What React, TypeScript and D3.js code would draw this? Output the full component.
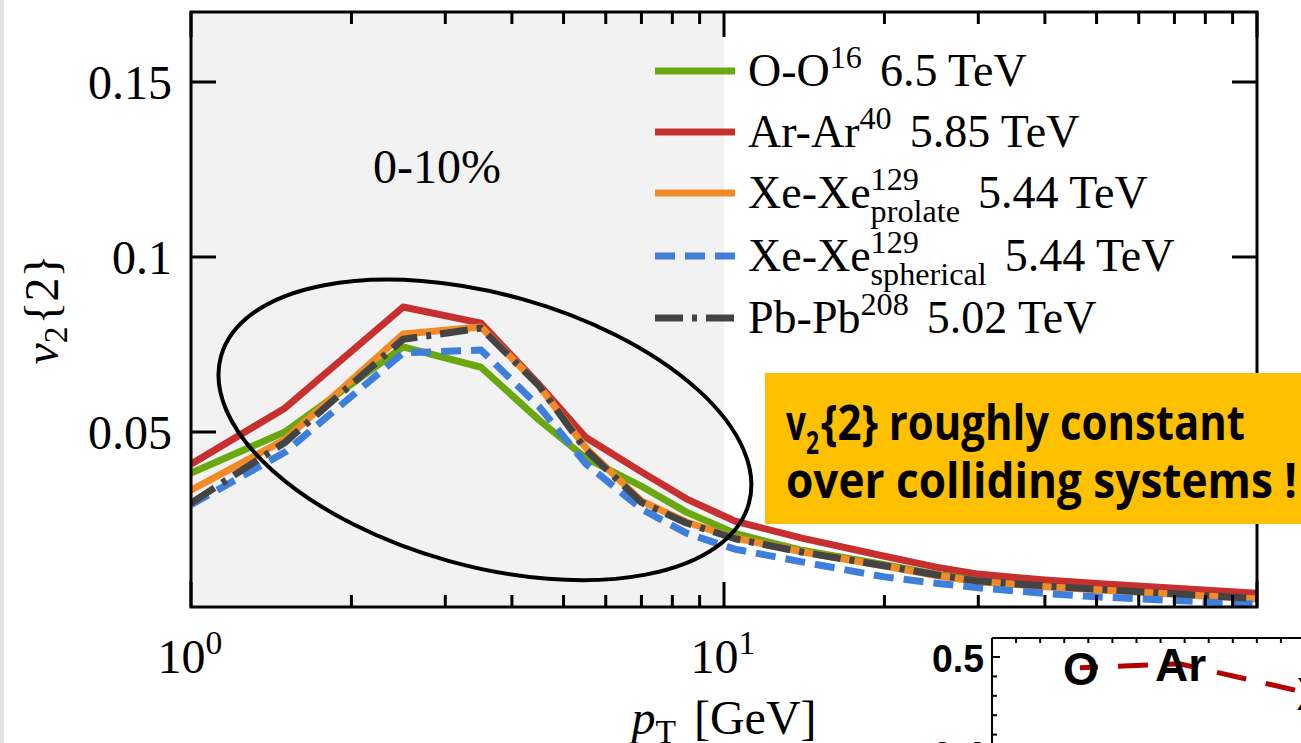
import React, { useEffect, useRef } from 'react';
import * as d3 from 'd3';

const W = 1301;
const H = 743;

// pT grid [GeV] shared by all systems
const pT = [1, 1.5, 2.5, 3.5, 4.5, 5.5, 7, 8.5, 10.5, 14, 20, 25, 30, 40, 50, 100];

// v2{2}, 0-10% centrality
const v2OO = [0.0383, 0.05, 0.0743, 0.0685, 0.0534, 0.0426, 0.0345, 0.0271, 0.021, 0.0162, 0.0121, 0.0094, 0.0076, 0.0062, 0.0053, 0.0027];
const v2ArAr = [0.0408, 0.0568, 0.0857, 0.0811, 0.0635, 0.0485, 0.0386, 0.0309, 0.0245, 0.0197, 0.0145, 0.0114, 0.0094, 0.0077, 0.0067, 0.0039];
const v2XeProlate = [0.0334, 0.0478, 0.078, 0.08, 0.0632, 0.0455, 0.0303, 0.0243, 0.0197, 0.0158, 0.0117, 0.009, 0.0072, 0.0058, 0.0049, 0.0023];
const v2XeSpherical = [0.0292, 0.0442, 0.0726, 0.0734, 0.0572, 0.041, 0.028, 0.0211, 0.0165, 0.0129, 0.0086, 0.0068, 0.0055, 0.0039, 0.0029, 0.0008];
const v2PbPb = [0.0297, 0.047, 0.0765, 0.0797, 0.0632, 0.045, 0.0299, 0.024, 0.0195, 0.0157, 0.0118, 0.0092, 0.0074, 0.006, 0.0051, 0.0024];

const yTicks = [0.05, 0.1, 0.15];
const yTickLabels = ['0.05', '0.1', '0.15'];
const xMajorTicks = [1, 10, 100];
const xMinorTicks = [2, 3, 4, 5, 6, 7, 8, 9, 20, 30, 40, 50, 60, 70, 80, 90];
const xTickLabels = [
  { value: 1, base: '10', exp: '0' },
  { value: 10, base: '10', exp: '1' },
];

// inset: flow coefficient vs. collision system
const insetSystems = ['O', 'Ar', 'Xe'];
const insetA = [16, 40, 129];
const insetValues = [0.489, 0.493, 0.463];
const insetYTicks = [0.5, 0.48, 0.46, 0.44, 0.42, 0.4];
const insetYLabels = [
  { value: 0.5, text: '0.5' },
  { value: 0.4, text: '0.4' },
];
const insetXTicks = d3.range(1, 13);

type Part = { t?: string; sup?: string; sub?: string; gap?: number; italic?: boolean };

const series: { values: number[]; color: string; dash: string | null; legend: Part[] }[] = [
  { values: v2OO, color: '#6aa810', dash: null, legend: [{ t: 'O-O' }, { sup: '16' }, { t: '6.5 TeV', gap: 16 }] },
  { values: v2ArAr, color: '#c83030', dash: null, legend: [{ t: 'Ar-Ar' }, { sup: '40' }, { t: '5.85 TeV', gap: 16 }] },
  {
    values: v2XeProlate,
    color: '#f28a28',
    dash: null,
    legend: [{ t: 'Xe-Xe' }, { sup: '129', sub: 'prolate' }, { t: '5.44 TeV', gap: 16 }],
  },
  {
    values: v2XeSpherical,
    color: '#3f7fdc',
    dash: '20,10',
    legend: [{ t: 'Xe-Xe' }, { sup: '129', sub: 'spherical' }, { t: '5.44 TeV', gap: 16 }],
  },
  { values: v2PbPb, color: '#444444', dash: '28,9,5,9', legend: [{ t: 'Pb-Pb' }, { sup: '208' }, { t: '5.02 TeV', gap: 16 }] },
];

const M = { left: 191, right: 1257, top: 12, bottom: 607 };

function richText(parent: any, parts: Part[], size: number) {
  const g = parent.append('g');
  let x = 0;
  parts.forEach((p) => {
    x += p.gap ?? 0;
    if (p.sup !== undefined || p.sub !== undefined) {
      const s = size * 0.7;
      let w = 0;
      if (p.sup !== undefined) {
        const el = g.append('text').attr('x', x).attr('y', -size * 0.4).attr('font-size', s).text(p.sup);
        w = Math.max(w, el.node().getComputedTextLength());
      }
      if (p.sub !== undefined) {
        const el = g
          .append('text')
          .attr('x', x)
          .attr('y', p.sup !== undefined ? size * 0.3 : size * 0.18)
          .attr('font-size', s)
          .text(p.sub);
        w = Math.max(w, el.node().getComputedTextLength());
      }
      x += w + 2;
    } else {
      const el = g
        .append('text')
        .attr('x', x)
        .attr('y', 0)
        .attr('font-size', size)
        .attr('font-style', p.italic ? 'italic' : null)
        .text(p.t ?? '');
      x += el.node().getComputedTextLength();
    }
  });
  return { g, width: x };
}

export default function App() {
  const ref = useRef<SVGSVGElement>(null);

  useEffect(() => {
    const svg = d3.select(ref.current);
    svg.selectAll('*').remove();

    const x = d3.scaleLog().domain([1, 100]).range([M.left, M.right]);
    const y = d3.scaleLinear().domain([0, 0.17]).range([M.bottom, M.top]);

    svg.append('rect').attr('width', W).attr('height', H).attr('fill', '#ffffff');
    svg.append('rect').attr('x', 0).attr('width', 4).attr('height', H).attr('fill', '#e3e3e3');

    // shaded low-pT region
    svg
      .append('rect')
      .attr('x', x(1))
      .attr('y', M.top)
      .attr('width', x(10) - x(1))
      .attr('height', M.bottom - M.top)
      .attr('fill', '#f2f2f2');

    svg
      .append('clipPath')
      .attr('id', 'plot-clip')
      .append('rect')
      .attr('x', M.left)
      .attr('y', M.top)
      .attr('width', M.right - M.left)
      .attr('height', M.bottom - M.top);

    const line = d3
      .line<number>()
      .x((_, i) => x(pT[i]))
      .y((d) => y(d));

    const curves = svg.append('g').attr('clip-path', 'url(#plot-clip)');
    series.forEach((s) => {
      curves
        .append('path')
        .attr('d', line(s.values))
        .attr('fill', 'none')
        .attr('stroke', s.color)
        .attr('stroke-width', 7)
        .attr('stroke-linejoin', 'round')
        .attr('stroke-dasharray', s.dash);
    });

    // frame and ticks
    const axes = svg.append('g').attr('stroke', '#000').attr('stroke-width', 3);
    axes
      .append('rect')
      .attr('x', M.left)
      .attr('y', M.top)
      .attr('width', M.right - M.left)
      .attr('height', M.bottom - M.top)
      .attr('fill', 'none');
    yTicks.forEach((t) => {
      axes.append('line').attr('x1', M.left).attr('x2', M.left + 25).attr('y1', y(t)).attr('y2', y(t));
      axes.append('line').attr('x1', M.right).attr('x2', M.right - 25).attr('y1', y(t)).attr('y2', y(t));
    });
    xMajorTicks.forEach((t) => {
      axes.append('line').attr('x1', x(t)).attr('x2', x(t)).attr('y1', M.bottom).attr('y2', M.bottom - 25);
      axes.append('line').attr('x1', x(t)).attr('x2', x(t)).attr('y1', M.top).attr('y2', M.top + 25);
    });
    xMinorTicks.forEach((t) => {
      axes.append('line').attr('x1', x(t)).attr('x2', x(t)).attr('y1', M.bottom).attr('y2', M.bottom - 12);
      axes.append('line').attr('x1', x(t)).attr('x2', x(t)).attr('y1', M.top).attr('y2', M.top + 12);
    });

    const FS = 48;
    yTicks.forEach((t, i) => {
      svg
        .append('text')
        .attr('x', 172)
        .attr('y', y(t) + 17)
        .attr('text-anchor', 'end')
        .attr('font-size', FS)
        .text(yTickLabels[i]);
    });
    xTickLabels.forEach((l) => {
      const r = richText(svg, [{ t: l.base }, { sup: l.exp }], FS);
      r.g.attr('transform', `translate(${x(l.value) - r.width / 2},673)`);
    });

    // axis titles
    const xt = richText(svg, [{ t: 'p', italic: true }, { sub: 'T' }, { t: '[GeV]', gap: 16 }], FS);
    xt.g.attr('transform', `translate(${(M.left + M.right) / 2 - xt.width / 2},734)`);
    const yt = richText(svg, [{ t: 'v', italic: true }, { sub: '2' }, { t: '{2}' }], FS);
    yt.g.attr('transform', `translate(58,${(M.top + M.bottom) / 2 + yt.width / 2}) rotate(-90)`);

    svg.append('text').attr('x', 437).attr('y', 183).attr('text-anchor', 'middle').attr('font-size', FS).text('0-10%');

    // legend
    const legendRows = [71, 132, 193, 256, 318];
    series.forEach((s, i) => {
      const ly = legendRows[i];
      svg
        .append('line')
        .attr('x1', 655)
        .attr('x2', 735)
        .attr('y1', ly)
        .attr('y2', ly)
        .attr('stroke', s.color)
        .attr('stroke-width', 7)
        .attr('stroke-dasharray', s.dash);
      const r = richText(svg, s.legend, 46);
      r.g.attr('transform', `translate(748,${ly + 15})`);
    });

    // highlight ellipse around the peak region
    const ec = { pt: 3.56, v: 0.0506 };
    svg
      .append('ellipse')
      .attr('cx', 0)
      .attr('cy', 0)
      .attr('rx', 274)
      .attr('ry', 136)
      .attr('transform', `translate(${x(ec.pt)},${y(ec.v)}) rotate(15.6)`)
      .attr('fill', 'none')
      .attr('stroke', '#000')
      .attr('stroke-width', 4);

    // callout box
    const note = svg.append('g').attr('font-family', '"Open Sans", sans-serif').attr('font-weight', 700);
    note.append('rect').attr('x', 765).attr('y', 373).attr('width', W - 765).attr('height', 151).attr('fill', '#ffc000');
    note.append('text').attr('x', 786).attr('y', 440).attr('font-size', 49).attr('textLength', 20).attr('lengthAdjust', 'spacingAndGlyphs').text('v');
    note.append('text').attr('x', 806).attr('y', 454).attr('font-size', 32).attr('textLength', 13).attr('lengthAdjust', 'spacingAndGlyphs').text('2');
    note
      .append('text')
      .attr('x', 821)
      .attr('y', 440)
      .attr('font-size', 49)
      .attr('textLength', 424)
      .attr('lengthAdjust', 'spacingAndGlyphs')
      .text('{2} roughly constant');
    note
      .append('text')
      .attr('x', 786)
      .attr('y', 498)
      .attr('font-size', 49)
      .attr('textLength', 511)
      .attr('lengthAdjust', 'spacingAndGlyphs')
      .text('over colliding systems !');

    // inset panel
    const ix = d3.scaleLog().domain([16, 129]).range([1080, 1307]);
    const iy = d3.scaleLinear().domain([0.4, 0.5]).range([754, 657]);
    const it = d3.scaleLinear().domain([0, 13]).range([992, 1305]);
    const inset = svg.append('g').attr('font-family', '"Liberation Sans", Arial, sans-serif').attr('font-weight', 700);
    const ia = inset.append('g').attr('stroke', '#000').attr('stroke-width', 2);
    ia.append('line').attr('x1', 992).attr('x2', 992).attr('y1', 638).attr('y2', H);
    ia.append('line').attr('x1', 992).attr('x2', W).attr('y1', 638).attr('y2', 638);
    insetXTicks.forEach((t) => {
      ia.append('line').attr('x1', it(t)).attr('x2', it(t)).attr('y1', 638).attr('y2', 643);
    });
    insetYTicks.forEach((t, i) => {
      const major = i === 0 || i === insetYTicks.length - 1;
      ia.append('line').attr('x1', 992).attr('x2', 992 + (major ? 8 : 5)).attr('y1', iy(t)).attr('y2', iy(t));
    });
    insetYLabels.forEach((l) => {
      inset
        .append('text')
        .attr('x', 984)
        .attr('y', iy(l.value) + 15)
        .attr('text-anchor', 'end')
        .attr('font-size', 38)
        .attr('textLength', 52)
        .attr('lengthAdjust', 'spacingAndGlyphs')
        .text(l.text);
    });
    const iline = d3
      .line<number>()
      .x((_, i) => ix(insetA[i]))
      .y((d) => iy(d));
    inset
      .append('path')
      .attr('d', iline(insetValues))
      .attr('fill', 'none')
      .attr('stroke', '#b40000')
      .attr('stroke-width', 5)
      .attr('stroke-dasharray', '30,20')
      .attr('stroke-dashoffset', 12);
    insetSystems.forEach((s, i) => {
      inset
        .append('text')
        .attr('x', ix(insetA[i]) + (i === 2 ? 18 : 1))
        .attr('y', iy(insetValues[i]) + 17)
        .attr('text-anchor', 'middle')
        .attr('font-size', 46)
        .text(s);
    });
  }, []);

  return (
    <svg
      ref={ref}
      width={W}
      height={H}
      style={{ position: 'absolute', left: 0, top: 0, fontFamily: '"Liberation Serif", serif' }}
    />
  );
}
